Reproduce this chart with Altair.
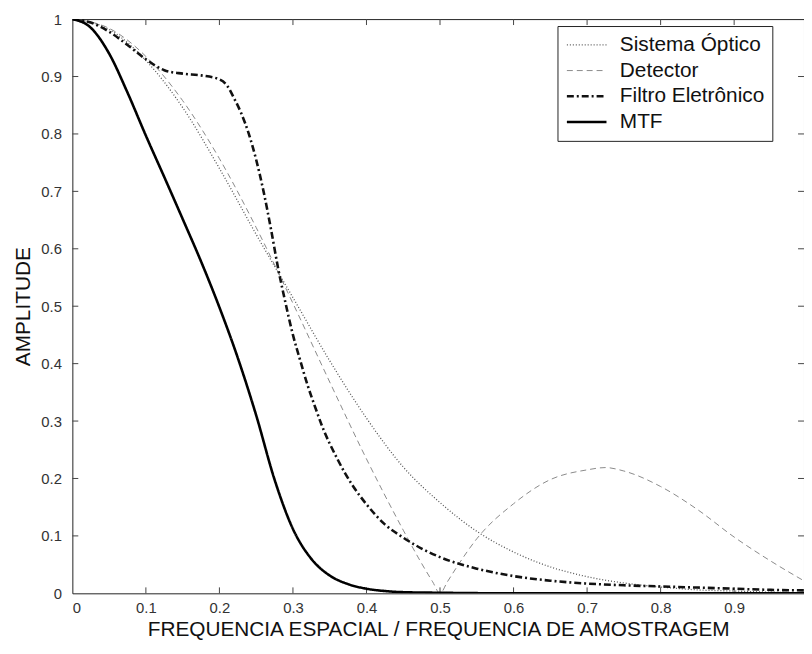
import altair as alt
import pandas as pd

# ---- data ----
series_names = ["Sistema Óptico", "Detector", "Filtro Eletrônico", "MTF"]

x_opt = [0, .05, .1, .15, .2, .25, .3, .35, .4, .45, .5, .55, .6, .65, .7, .75, .8, .85, .9, .95, 1.0]
y_opt = [1, .982, .928, .846, .740, .625, .515, .405, .305, .220, .158, .108, .072, .046, .029, .018, .011, .006, .004, .002, .001]

x_det = [0, .05, .1, .15, .2, .25, .3, .35, .4, .45, .475, .49, .5, .51, .525, .55, .6, .65, .7, .725, .75, .8, .85, .9, .95, 1.0]
y_det = [1, .984, .935, .858, .757, .637, .505, .368, .234, .110, .052, .02, 0, .02, .05, .095, .156, .198, .215, .219, .213, .186, .146, .098, .056, .018]

x_fil = [0, .025, .05, .075, .1, .125, .15, .175, .2, .21, .22, .23, .24, .25, .26, .27, .28, .29, .30, .31,
         .32, .33, .34, .36, .38, .40, .425, .45, .475, .5, .55, .6, .65, .7, .75, .8, .85, .9, .95, 1.0]
y_fil = [1, .994, .978, .955, .93, .911, .905, .902, .895, .885, .862, .835, .80, .755, .70, .635, .565, .505, .45, .405,
         .362, .325, .29, .235, .19, .155, .12, .097, .078, .063, .043, .030, .022, .017, .014, .012, .010, .008, .006, .005]

x_mtf = [0, .025, .05, .075, .1, .125, .15, .175, .2, .225, .25, .275, .3, .325, .35, .375, .4, .425, .45, .5, .6, .7, .8, .9, 1.0]
y_mtf = [1, .985, .94, .872, .797, .725, .652, .578, .498, .41, .31, .198, .112, .06, .031, .016, .008, .004, .002, .001, 0, 0, 0, 0, 0]

x_ticks = [0.1, 0.2, 0.3, 0.4, 0.5, 0.6, 0.7, 0.8, 0.9]
y_ticks = [0.1, 0.2, 0.3, 0.4, 0.5, 0.6, 0.7, 0.8, 0.9]
x_label_values = [0, 0.1, 0.2, 0.3, 0.4, 0.5, 0.6, 0.7, 0.8, 0.9]
y_label_values = [0, 0.1, 0.2, 0.3, 0.4, 0.5, 0.6, 0.7, 0.8, 0.9, 1]

rows = []
for name, xs, ys in [(series_names[0], x_opt, y_opt), (series_names[1], x_det, y_det),
                     (series_names[2], x_fil, y_fil), (series_names[3], x_mtf, y_mtf)]:
    for i, (a, b) in enumerate(zip(xs, ys)):
        rows.append({"serie": name, "f": a, "amp": b, "i": i})
df = pd.DataFrame(rows)

W, H = 739, 580
FONT = "Liberation Sans"
xscale = alt.Scale(domain=[0, 0.995], nice=False, zero=False)
yscale = alt.Scale(domain=[0, 1], nice=False)

lines = alt.Chart(df).mark_line(clip=True, interpolate="monotone").encode(
    x=alt.X("f:Q", scale=xscale,
            axis=alt.Axis(title="FREQUENCIA ESPACIAL / FREQUENCIA DE AMOSTRAGEM", values=x_label_values,
                          format="~g", grid=False, domain=False, ticks=False, labelPadding=7,
                          titlePadding=4)),
    y=alt.Y("amp:Q", scale=yscale,
            axis=alt.Axis(title="AMPLITUDE", values=y_label_values, format="~g", grid=False,
                          domain=False, ticks=False, labelPadding=11, titlePadding=7)),
    order="i:Q",
    color=alt.Color("serie:N", sort=series_names,
                    scale=alt.Scale(domain=series_names, range=["#555555", "#8a8a8a", "#111111", "#000000"]),
                    legend=alt.Legend(title=None, orient="none", legendX=490, legendY=7,
                                      symbolType="stroke", symbolSize=1600, clipHeight=22,
                                      labelFontSize=21, labelFont=FONT, labelColor="#111",
                                      strokeColor="#222", fillColor="white", padding=8,
                                      rowPadding=4, labelOffset=12, cornerRadius=0)),
    strokeDash=alt.StrokeDash("serie:N", sort=series_names,
                              scale=alt.Scale(domain=series_names,
                                              range=[[1, 2], [6, 4], [7, 3, 2, 3], [1, 0]]),
                              legend=alt.Legend(title=None)),
    strokeWidth=alt.StrokeWidth("serie:N", sort=series_names,
                                scale=alt.Scale(type="ordinal", domain=series_names,
                                                range=[1.3, 1, 2.6, 2.6]),
                                legend=alt.Legend(title=None)),
)

tick_col = "#444"
xt = pd.DataFrame({"v": x_ticks})
yt = pd.DataFrame({"v": y_ticks})
bottom_ticks = alt.Chart(xt).mark_rule(color=tick_col, strokeWidth=1).encode(
    x=alt.X("v:Q", scale=xscale), y=alt.value(H), y2=alt.value(H - 6))
top_ticks = alt.Chart(xt).mark_rule(color=tick_col, strokeWidth=1).encode(
    x=alt.X("v:Q", scale=xscale), y=alt.value(0), y2=alt.value(6))
left_ticks = alt.Chart(yt).mark_rule(color=tick_col, strokeWidth=1).encode(
    y=alt.Y("v:Q", scale=yscale), x=alt.value(0), x2=alt.value(6))
right_ticks = alt.Chart(yt).mark_rule(color=tick_col, strokeWidth=1).encode(
    y=alt.Y("v:Q", scale=yscale), x=alt.value(W - 6), x2=alt.value(W))

chart = alt.layer(bottom_ticks, top_ticks, left_ticks, right_ticks, lines).properties(
    width=W, height=H,
    autosize=alt.AutoSizeParams(type="none"),
    padding={"left": 65, "top": 8, "right": 0, "bottom": 50}
).configure_view(stroke="#222", strokeWidth=1).configure_axis(
    labelFont=FONT, labelFontSize=15, labelColor="#333",
    titleFont=FONT, titleFontSize=21, titleColor="#111", titleFontWeight="normal"
)

chart.save("out.html", embed_options={"renderer": "svg", "actions": False})
